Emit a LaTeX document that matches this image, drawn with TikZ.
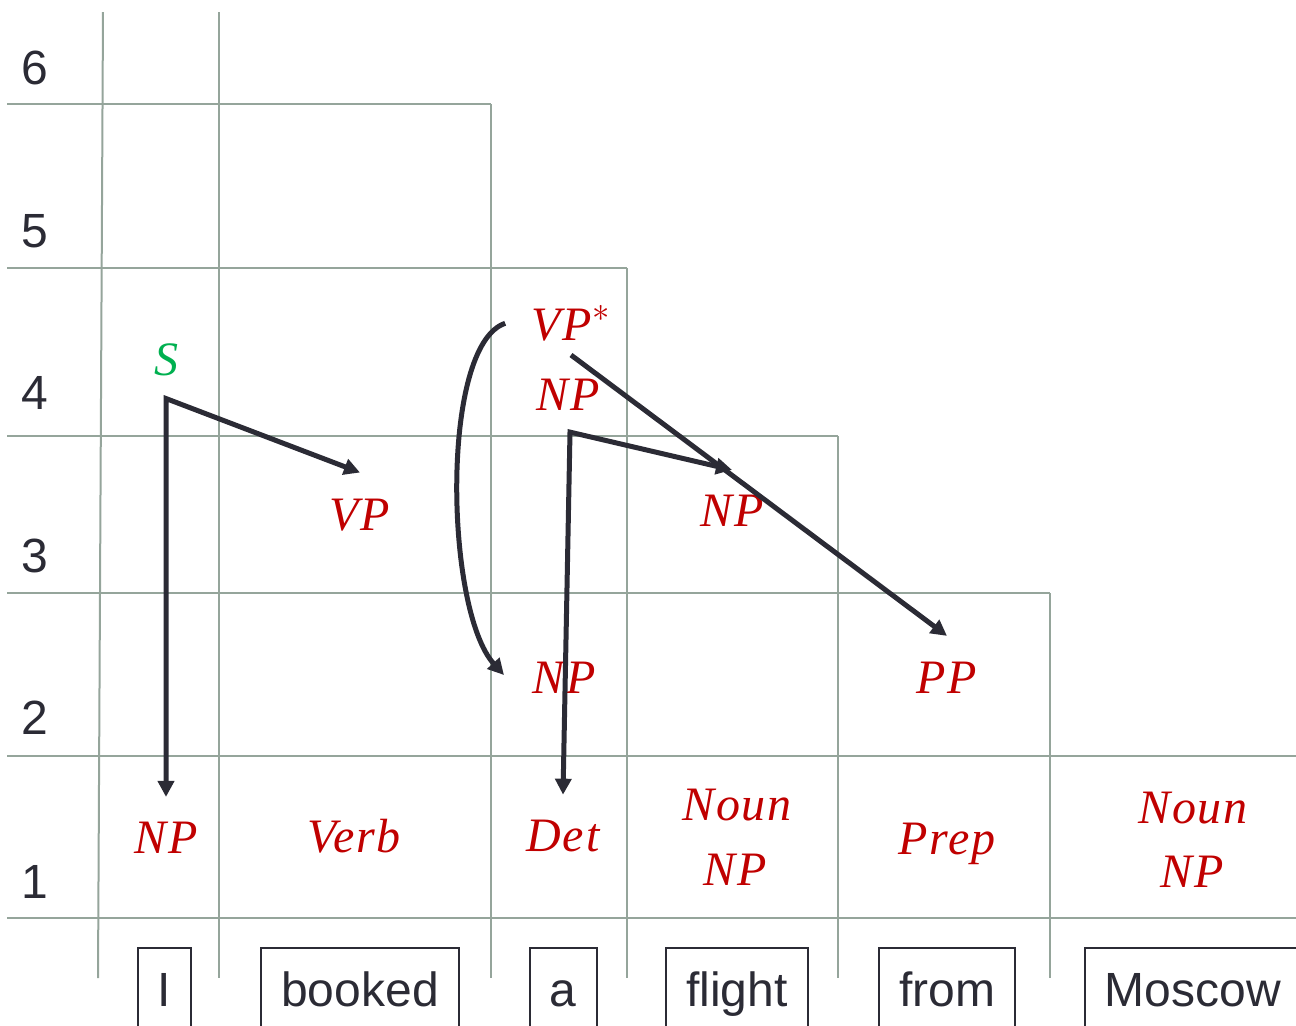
\documentclass[tikz,border=0pt]{standalone}
\usepackage{fontspec}
\setmainfont{Liberation Sans}
\newfontfamily\catfont{Liberation Serif}[LetterSpace=4]
\usetikzlibrary{arrows.meta}
\definecolor{gridgray}{HTML}{95A59B}
\definecolor{catred}{HTML}{C00000}
\definecolor{sgreen}{HTML}{00B050}
\definecolor{inkdark}{HTML}{2B2B35}

\begin{document}
\begin{tikzpicture}[x=0.5pt,y=-0.5pt,
  grid/.style={gridgray,line width=1pt},
  cat/.style={catred,inner sep=0pt,font=\fontsize{24}{24}\catfont\itshape},
  rownum/.style={text=inkdark,font=\fontsize{24}{24}\selectfont},
  word/.style={draw=inkdark,line width=1pt,text=inkdark,inner sep=0pt,
    font=\fontsize{24}{24}\selectfont,text height=17pt,text depth=5pt,minimum height=46pt},
  arr/.style={inkdark,line width=2.5pt,line join=miter},
  >={Triangle[length=8pt,width=8pt]}]
  \useasboundingbox (0,0) rectangle (1296,1025);
  \clip (0,0) rectangle (1296,1025);
  \foreach \y/\xe in {104/491,268/627,436/838,593/1050,756/1296,918/1296}
    \draw[grid] (7,\y) -- (\xe,\y);
  \draw[grid] (103,12) -- (98,978);
  \foreach \x/\ys in {219/12,491/104,627/268,838/436,1050/593}
    \draw[grid] (\x,\ys) -- (\x,978);
  \foreach \r/\y in {6/68,5/231,4/393,3/556,2/718,1/882}
    \node[rownum] (row\r) at (35,\y) {\r};
  \foreach \n/\w/\x/\bw in {wI/I/164/26.5,wbooked/booked/360/99,wa/a/563/33.5,
      wflight/flight/737/71,wfrom/from/947/68,wmoscow/Moscow/1193/108}
    \node[word,minimum width=\bw pt] (\n) at (\x,994) {\w};
  \node[cat,sgreen] (s) at (166,360) {S};
  \node[cat] (vp) at (360,515) {VP};
  \node[cat,anchor=base] (vpstar) at (571,340) {VP$^{\ast}$};
  \node[cat] (npfour) at (568,395) {NP};
  \node[cat] (npthree) at (732,511) {NP};
  \node[cat] (nptwo) at (564,678) {NP};
  \node[cat] (pp) at (947,678) {PP};
  \node[cat] (npI) at (166,838) {NP};
  \node[cat] (verb) at (354,836) {Verb};
  \node[cat] (det) at (563,836) {Det};
  \node[cat] (nounflight) at (737,805) {Noun};
  \node[cat] (npflight) at (735,870) {NP};
  \node[cat,anchor=base] (prep) at (947,854) {Prep};
  \node[cat] (nounmoscow) at (1193,808) {Noun};
  \node[cat] (npmoscow) at (1192,872) {NP};
  \coordinate (sknee) at ([yshift=-11pt]s.south);
  \coordinate (npknee) at ([xshift=1pt,yshift=-10.5pt]npfour.south);
  \draw[arr,<->] ([yshift=12.5pt]npI.north) -- (sknee) -- ([yshift=13pt]vp.north);
  \draw[arr,<->] ([yshift=12.5pt]det.north) -- (npknee) -- ([yshift=12.5pt]npthree.north);
  \draw[arr,->] ([yshift=-7.5pt]vpstar.base) -- ([yshift=13pt]pp.north);
  \draw[arr,->] ([xshift=-13pt]vpstar.west) .. controls (440,345) and (445,610)
    .. ([xshift=-14pt,yshift=1.5pt]nptwo.west);
\end{tikzpicture}
\end{document}
